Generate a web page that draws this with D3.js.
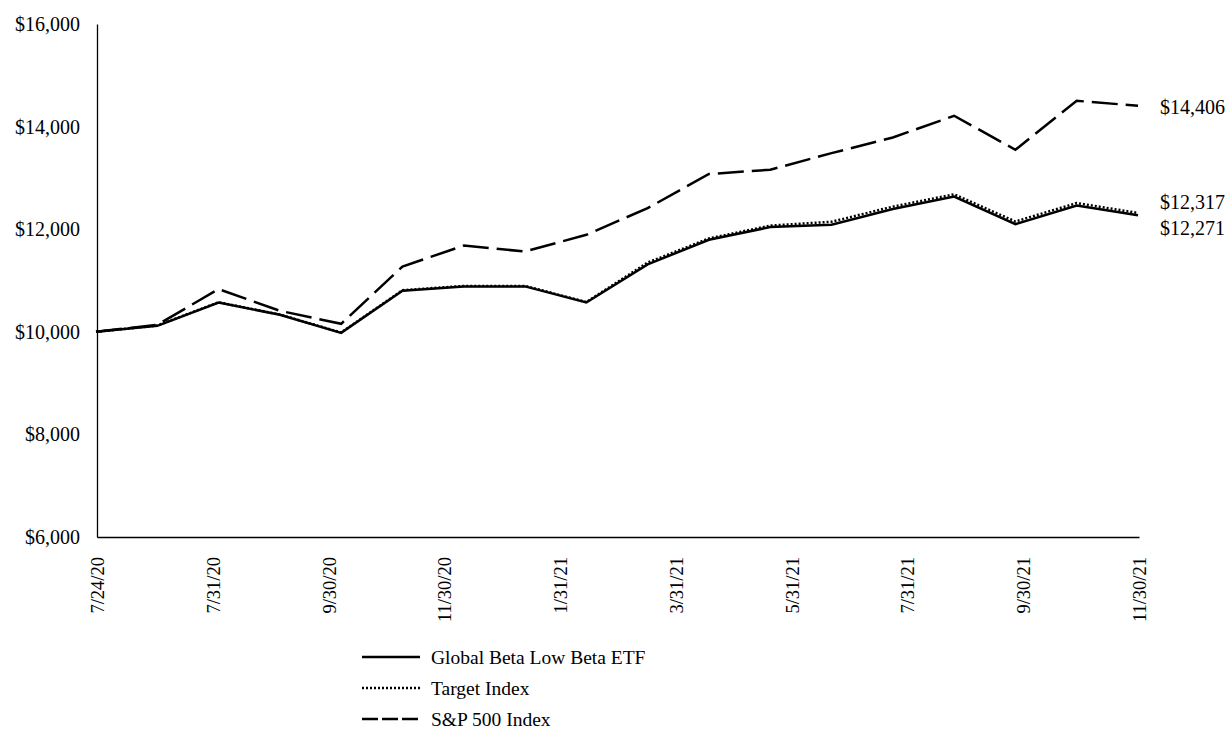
<!DOCTYPE html>
<html>
<head>
<meta charset="utf-8">
<script src="https://cdn.jsdelivr.net/npm/d3@7"></script>
<style>
  html, body { margin: 0; padding: 0; background: #fff; }
  svg text { font-family: "Liberation Serif", "DejaVu Serif", serif; fill: #000; }
</style>
</head>
<body>
<svg id="chart" width="1230" height="732"></svg>
<script>
const dates = ["7/24/20","7/31/20","8/31/20","9/30/20","10/31/20","11/30/20","12/31/20","1/31/21","2/28/21","3/31/21","4/30/21","5/31/21","6/30/21","7/31/21","8/31/21","9/30/21","10/31/21","11/30/21"];
const etf    = [10000,10117,10571,10331,9980,10800,10885,10885,10571,11315,11793,12041,12086,12392,12637,12099,12462,12271];
const target = [10000,10122,10576,10336,9986,10810,10895,10895,10580,11350,11820,12070,12145,12440,12680,12150,12510,12317];
const sp500  = [10000,10136,10832,10409,10156,11273,11680,11565,11891,12411,13076,13158,13483,13787,14211,13548,14503,14406];
const tickLabels = ["7/24/20","7/31/20","9/30/20","11/30/20","1/31/21","3/31/21","5/31/21","7/31/21","9/30/21","11/30/21"];
const yTicks = [6000,8000,10000,12000,14000,16000];
const seriesNames = ["Global Beta Low Beta ETF","Target Index","S&P 500 Index"];
const endLabels = ["$14,406","$12,317","$12,271"];

const svg = d3.select("#chart");
const L = 97, R = 1139, T = 24, B = 537;

const x = d3.scalePoint().domain(dates).range([96, 1138]);
const xLab = d3.scalePoint().domain(tickLabels).range([L, R]);
const y = d3.scaleLinear().domain([6000, 16000]).range([B, T]);

const fmt = v => "$" + d3.format(",")(v);

// Y axis
const yAx = svg.append("g").attr("transform", `translate(${L},0)`)
  .call(d3.axisLeft(y).tickValues(yTicks).tickFormat(fmt).tickSize(0).tickSizeOuter(0).tickPadding(17));
yAx.select(".domain").attr("stroke", "#000").attr("stroke-width", 1.3);
yAx.selectAll("text").style("font-size", "20px").style("font-family", '"Liberation Serif", serif');

// X axis
const xAx = svg.append("g").attr("transform", `translate(0,${B})`)
  .call(d3.axisBottom(xLab).tickSize(0).tickSizeOuter(0));
xAx.select(".domain").attr("stroke", "#000").attr("stroke-width", 1.3);
xAx.selectAll("text")
  .attr("transform", "rotate(-90)")
  .attr("text-anchor", "end")
  .attr("x", -20).attr("y", 0).attr("dy", "0.35em")
  .style("font-size", "18.5px").style("font-family", '"Liberation Serif", serif');

const line = d3.line().x((d, i) => x(dates[i])).y(d => y(d));

svg.append("path").datum(sp500).attr("d", line).attr("fill", "none")
  .attr("stroke", "#000").attr("stroke-width", 2.5).attr("stroke-dasharray", "26,8");
svg.append("path").datum(etf).attr("d", line).attr("fill", "none")
  .attr("stroke", "#000").attr("stroke-width", 2.5);
svg.append("path").datum(target).attr("d", line).attr("fill", "none")
  .attr("stroke", "#000").attr("stroke-width", 2.5).attr("stroke-dasharray", "2,2");

// End labels
const endY = [107, 201.5, 227.5];
svg.selectAll(".endlab").data(endLabels).enter().append("text")
  .attr("x", 1160).attr("y", (d, i) => endY[i]).attr("dy", "0.35em")
  .style("font-size", "20px").text(d => d);

// Legend
const legY = [657, 688, 719];
const legDash = [null, "2,2", "16,4"];
const lg = svg.append("g");
seriesNames.forEach((n, i) => {
  lg.append("line").attr("x1", 362).attr("x2", 420).attr("y1", legY[i]).attr("y2", legY[i])
    .attr("stroke", "#000").attr("stroke-width", 2.5)
    .attr("stroke-dasharray", legDash[i]);
  lg.append("text").attr("x", 431).attr("y", legY[i]).attr("dy", "0.35em")
    .style("font-size", "19.5px").text(n);
});
</script>
</body>
</html>
